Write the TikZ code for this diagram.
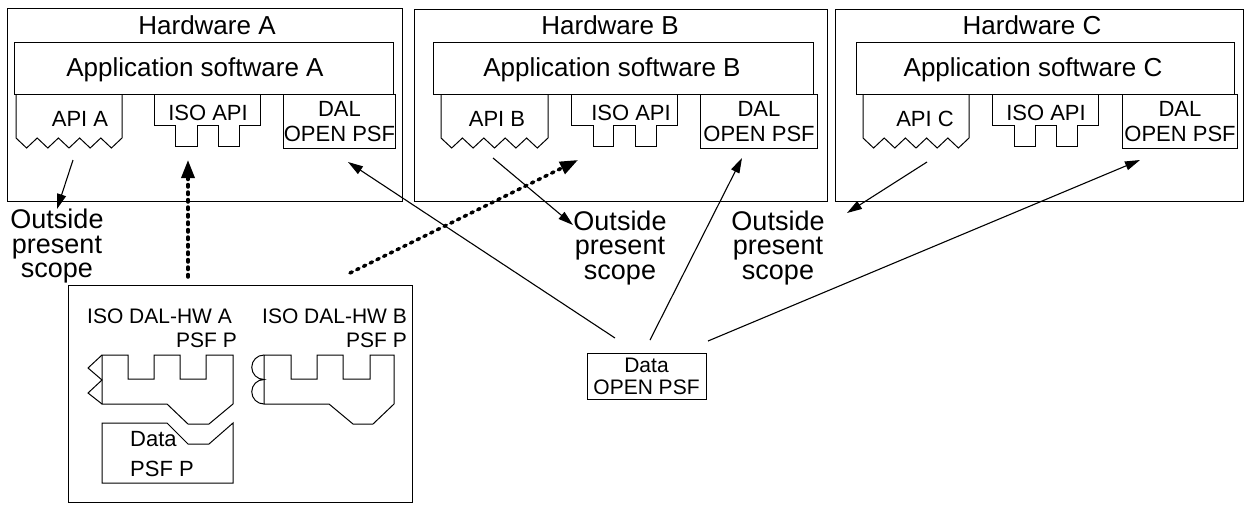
\documentclass[tikz,border=0pt]{standalone}
\usepackage{fontspec}
\setmainfont{Liberation Sans}
\usetikzlibrary{arrows.meta}
\tikzset{
  frame/.style={draw, line width=1pt},
  area/.style={frame, anchor=north west, inner sep=0pt},
  big/.style={font=\fontsize{26}{28}\selectfont, inner sep=0pt, anchor=base},
  scopetext/.style={font=\fontsize{27}{24.5}\selectfont, inner sep=0pt, align=center, anchor=north},
  mid/.style={font=\fontsize{22}{25}\selectfont, inner sep=0pt},
  small/.style={font=\fontsize{21}{22}\selectfont, inner sep=0pt},
  link/.style={line width=1.1pt, -{Triangle[length=15pt,width=9pt]}},
  dotlink/.style={line width=3.5pt, dash pattern=on 2.5pt off 5pt, line cap=round,
                  -{Triangle[length=18pt,width=13pt]}},
}
% API block with a zigzag lower edge
\newcommand\apiwave[2]{%
  \draw[frame] (#1,94) -- (#1,138)
    foreach \k in {1,...,10}{ -- ({#1+\k*(#2-#1)/10},{143-5*cos(180*\k)}) }
    -- (#2,94);}
% ISO API block with two tabs below
\newcommand\isotabs[6]{%
  \draw[frame] (#1,94) -- (#1,125) -- (#3,125) -- (#3,146) -- (#4,146) -- (#4,125)
    -- (#5,125) -- (#5,146) -- (#6,146) -- (#6,125) -- (#2,125) -- (#2,94);}
\begin{document}
\begin{tikzpicture}[x=1pt,y=-1pt]
\useasboundingbox (0,0) rectangle (1245,504);

% hardware frames
\node[area, minimum width=395pt, minimum height=193pt] (hwA) at (7,8) {};
\node[area, minimum width=413pt, minimum height=192pt] (hwB) at (414,9) {};
\node[area, minimum width=408pt, minimum height=192pt] (hwC) at (835,9) {};
\node[big] (thwA) at (207,34) {Hardware A};
\node[big] (thwB) at (610,34) {Hardware B};
\node[big] (thwC) at (1032,34) {Hardware C};

% application software
\node[area, minimum width=379pt, minimum height=52pt] (appA) at (14,42) {};
\node[area, minimum width=380pt, minimum height=52pt] (appB) at (433,42) {};
\node[area, minimum width=378pt, minimum height=52pt] (appC) at (856,42) {};
\node[big] (tappA) at (195,76) {Application software A};
\node[big] (tappB) at (612,76) {Application software B};
\node[big] (tappC) at (1033,76) {Application software C};

% proprietary APIs
\apiwave{16}{122}
\apiwave{441}{548}
\apiwave{863}{969}
\node[mid, anchor=base] (apiA) at (80,126) {API A};
\node[mid, anchor=base] (apiB) at (497,126) {API B};
\node[mid, anchor=base] (apiC) at (925,126) {API C};

% ISO APIs
\isotabs{154}{260}{175}{197}{218}{239}
\isotabs{571}{677}{593}{613}{635}{656}
\isotabs{992}{1098}{1014}{1035}{1056}{1077}
\node[mid, anchor=base] (isoA) at (208,120) {ISO API};
\node[mid, anchor=base] (isoB) at (631,120) {ISO API};
\node[mid, anchor=base] (isoC) at (1046,120) {ISO API};

% DAL blocks
\node[area, mid, align=center, minimum width=112pt, minimum height=54pt] (dalA) at (283,94) {DAL\\OPEN PSF};
\node[area, mid, align=center, minimum width=117pt, minimum height=54pt] (dalB) at (700,94) {DAL\\OPEN PSF};
\node[area, mid, align=center, minimum width=115pt, minimum height=54pt] (dalC) at (1122,94) {DAL\\OPEN PSF};

% outside scope labels
\node[scopetext] (scopeA) at (57,209) {Outside\\present\\scope};
\node[scopetext] (scopeB) at (620,210.5) {Outside\\present\\scope};
\node[scopetext] (scopeC) at (778,210.5) {Outside\\present\\scope};

% portable profile container
\node[area, minimum width=344pt, minimum height=217pt] (psfp) at (68,285) {};
\node[small, anchor=base west] (hwAlbl) at (87,323) {ISO DAL-HW A};
\node[small, anchor=base east] (hwApsf) at (237,347) {PSF P};
\node[small, anchor=base west] (hwBlbl) at (262,323) {ISO DAL-HW B};
\node[small, anchor=base east] (hwBpsf) at (407,347) {PSF P};

% DAL for hardware A: pointed connectors on the left
\draw[frame] (102,355) -- (128,355) -- (128,379) -- (154,379) -- (154,355) -- (180,355)
  -- (180,379) -- (206,379) -- (206,355) -- (233,355) -- (233,404) -- (209,424)
  -- (188,424) -- (167,404) -- (102,404) -- cycle;
\draw[frame] (102,355) -- (88,368) -- (102,380) -- (88,393) -- (102,404);

% DAL for hardware B: rounded connectors on the left
\draw[frame] (264,355) -- (291,355) -- (291,379) -- (317,379) -- (317,355) -- (343,355)
  -- (343,379) -- (370,379) -- (370,355) -- (394,355) -- (394,404) -- (373,424)
  -- (353,424) -- (329,404) -- (264,404) -- cycle;
\draw[frame] (264,355) arc[start angle=-90, end angle=-270, radius=12.25]
  arc[start angle=-90, end angle=-270, radius=12.25];

% portable data block
\draw[frame] (102,423) -- (167,423) -- (188,444) -- (209,444) -- (233,423)
  -- (233,483) -- (102,483) -- cycle;
\node[anchor=north west, inner sep=0pt, align=left, font=\fontsize{22}{30}\selectfont]
  (datap) at (130,431) {Data\\PSF P};

% open data block
\node[frame, small, align=center, inner sep=0pt, minimum width=119pt, minimum height=46pt]
  (dataopen) at (646.5,376) {Data\\OPEN PSF};

% connector end points
\coordinate (apiAt) at (73,160);
\coordinate (apiBt) at (493,158);
\coordinate (apiCt) at (927,162);
\coordinate (scopeBin) at (573,225);
\coordinate (scopeCin) at (847,213);
\coordinate (d1) at (615,338);
\coordinate (d2) at (650,340);
\coordinate (d3) at (708,341);
\coordinate (dalAin) at (348,162);
\coordinate (dalBin) at (742,158);
\coordinate (dalCin) at (1140,160);
\coordinate (isoAin) at (188,160);
\coordinate (isoBin) at (578,160);
\coordinate (p1) at (188,277);
\coordinate (p2) at (350,273);

% connectors
\draw[link] (apiAt) -- (scopeA.north);
\draw[link] (apiBt) -- (scopeBin);
\draw[link] (apiCt) -- (scopeCin);
\draw[link] (d1) -- (dalAin);
\draw[link] (d2) -- (dalBin);
\draw[link] (d3) -- (dalCin);
\draw[dotlink] (p1) -- (isoAin);
\draw[dotlink] (p2) -- (isoBin);
\end{tikzpicture}
\end{document}
